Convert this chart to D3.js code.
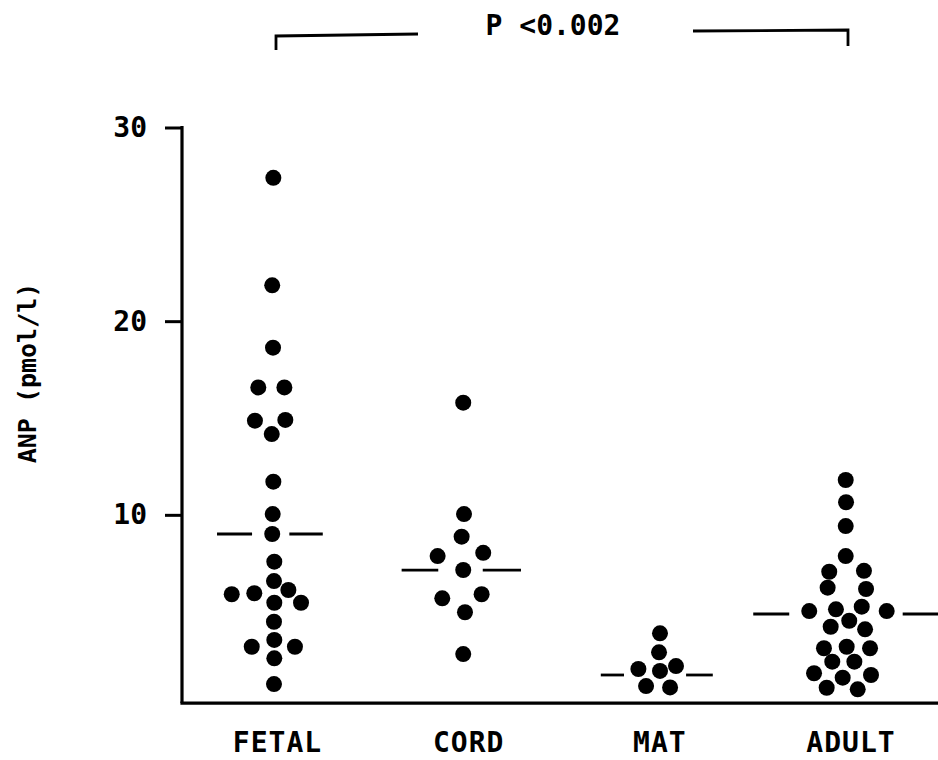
<!DOCTYPE html>
<html>
<head>
<meta charset="utf-8">
<script src="https://cdn.jsdelivr.net/npm/d3@7"></script>
<style>
  html, body { margin: 0; padding: 0; background: #fff; }
  svg { display: block; }
  text { font-family: "DejaVu Sans Mono", "Liberation Mono", monospace; font-weight: bold; fill: #000; }
</style>
</head>
<body>
<svg id="chart" width="938" height="760"></svg>
<script>
// ---------------- DATA ----------------
const categories = ["FETAL", "CORD", "MAT", "ADULT"];
const yTickValues = [10, 20, 30];
const yTitle = "ANP (pmol/l)";
const pLabel = "P <0.002";

// ANP values (pmol/l) per group
const fetalValues = [27.4, 21.85, 18.63, 16.58, 16.58, 14.86, 14.9, 14.17, 11.71, 10.04, 9.01, 7.58, 6.58,
                     5.9, 5.95, 6.12, 5.46, 5.46, 4.48, 3.19, 3.54, 3.19, 2.59, 1.26];
const cordValues  = [15.79, 10.04, 8.87, 7.87, 8.04, 7.15, 5.69, 5.9, 4.97, 2.81];
const matValues   = [3.88, 2.9, 2.04, 1.94, 2.19, 1.16, 1.09];
const adultValues = [11.8, 10.65, 9.42, 7.87, 7.06, 7.11, 6.24, 6.17, 5.03, 5.12, 5.26, 5.03, 4.53,
                     4.22, 4.09, 3.11, 3.19, 3.11, 2.42, 2.42, 1.82, 1.59, 1.73, 1.07, 0.99];

// horizontal swarm slot of each dot (in dot widths from the group centre)
const fetalSlots = [-0.26, -0.33, -0.28, -1.2, 0.43, -1.41, 0.49, -0.36, -0.26, -0.3, -0.33, -0.2, -0.22,
                    -2.86, -1.45, 0.68, -0.2, 1.47, -0.22, -1.61, -0.2, 1.09, -0.2, -0.22];
const cordSlots  = [-0.34, -0.29, -0.44, -1.94, 0.91, -0.34, -1.65, 0.81, -0.23, -0.34];
const matSlots   = [0.01, -0.05, -1.34, 0.01, 1.01, -0.86, 0.64];
const adultSlots = [-0.33, -0.31, -0.33, -0.33, -1.36, 0.81, -1.46, 0.94, -2.61, -0.94, 0.67, 2.23, -0.11,
                    -1.27, 0.88, -1.69, -0.27, 1.19, -1.17, 0.21, -2.31, -0.52, 1.25, -1.52, 0.42];

// group medians
const medians = [9.01, 7.15, 1.73, 4.88];

// ---------------- LAYOUT (not data) ----------------
const medianSegs = [            // [leftOuter, leftInner, rightInner, rightOuter] in dot widths
  [-3.78, -1.59, 0.74, 2.83],
  [-4.19, -1.9, 0.88, 3.27],
  [-3.69, -2.24, 1.64, 3.31],
  [-6.11, -3.86, 3.23, 5.44]
];
const yFloor = 0.28;

const svg = d3.select("#chart");
const W = 938, H = 760;

const x = d3.scalePoint().domain(categories).range([277.5, 851]).padding(0);
const y = d3.scaleLinear().domain([0, 30]).range([708.5, 127.5]);
const slot = d3.scaleLinear().domain([-1, 1]).range([-16, 16]);
const axisX = 182;

const groups = [
  { cat: "FETAL", values: fetalValues, slots: fetalSlots },
  { cat: "CORD",  values: cordValues,  slots: cordSlots },
  { cat: "MAT",   values: matValues,   slots: matSlots },
  { cat: "ADULT", values: adultValues, slots: adultSlots }
];

// ---- Y axis ----
const yAxis = d3.axisLeft(y).tickValues(yTickValues).tickSize(17).tickPadding(18).tickFormat(d3.format("d"));
const gy = svg.append("g").attr("transform", `translate(${axisX},0)`).call(yAxis);
gy.select(".domain").remove();
gy.selectAll(".tick line").attr("stroke", "#000").attr("stroke-width", 3);
gy.selectAll(".tick text")
  .attr("font-family", "DejaVu Sans Mono, monospace")
  .attr("font-weight", "bold")
  .attr("font-size", 28)
  .attr("fill", "#000");

svg.append("line")
  .attr("x1", axisX).attr("x2", axisX)
  .attr("y1", y(30) - 1.5).attr("y2", y(yFloor))
  .attr("stroke", "#000").attr("stroke-width", 3.2);

// ---- X axis baseline ----
svg.append("line")
  .attr("x1", axisX - 1.6).attr("x2", W)
  .attr("y1", y(yFloor)).attr("y2", y(yFloor))
  .attr("stroke", "#000").attr("stroke-width", 3.2);

// ---- category labels ----
svg.append("g").selectAll("text").data(categories).join("text")
  .attr("x", d => x(d))
  .attr("y", 752)
  .attr("text-anchor", "middle")
  .attr("font-size", 28)
  .attr("letter-spacing", 1)
  .text(d => d);

// ---- y title ----
svg.append("text")
  .attr("transform", `translate(36,373) rotate(-90)`)
  .attr("text-anchor", "middle")
  .attr("font-size", 25)
  .text(yTitle);

// ---- median lines ----
groups.forEach((g, i) => {
  const cx = x(g.cat);
  const s = medianSegs[i];
  const my = y(medians[i]);
  [[s[0], s[1]], [s[2], s[3]]].forEach(([a, b]) => {
    svg.append("line")
      .attr("x1", cx + slot(a)).attr("x2", Math.min(W, cx + slot(b)))
      .attr("y1", my).attr("y2", my)
      .attr("stroke", "#000").attr("stroke-width", 2.8);
  });
});

// ---- dots ----
groups.forEach(g => {
  const pts = g.values.map((v, i) => ({ v, s: g.slots[i] }));
  svg.append("g").selectAll("circle").data(pts).join("circle")
    .attr("cx", d => x(g.cat) + slot(d.s))
    .attr("cy", d => y(d.v))
    .attr("r", 8)
    .attr("fill", "#000");
});

// ---- significance bracket ----
const bx1 = x("FETAL") - 1.5, bx2 = x("ADULT") - 3;
const br = svg.append("g").attr("fill", "none").attr("stroke", "#000").attr("stroke-width", 2.8);
br.append("path").attr("d", `M${bx1},50 L${bx1},36 L418,34`);
br.append("path").attr("d", `M693,31 L${bx2},30 L${bx2},46`);
svg.append("text")
  .attr("x", 553).attr("y", 35)
  .attr("text-anchor", "middle")
  .attr("font-size", 28)
  .text(pLabel);
</script>
</body>
</html>
